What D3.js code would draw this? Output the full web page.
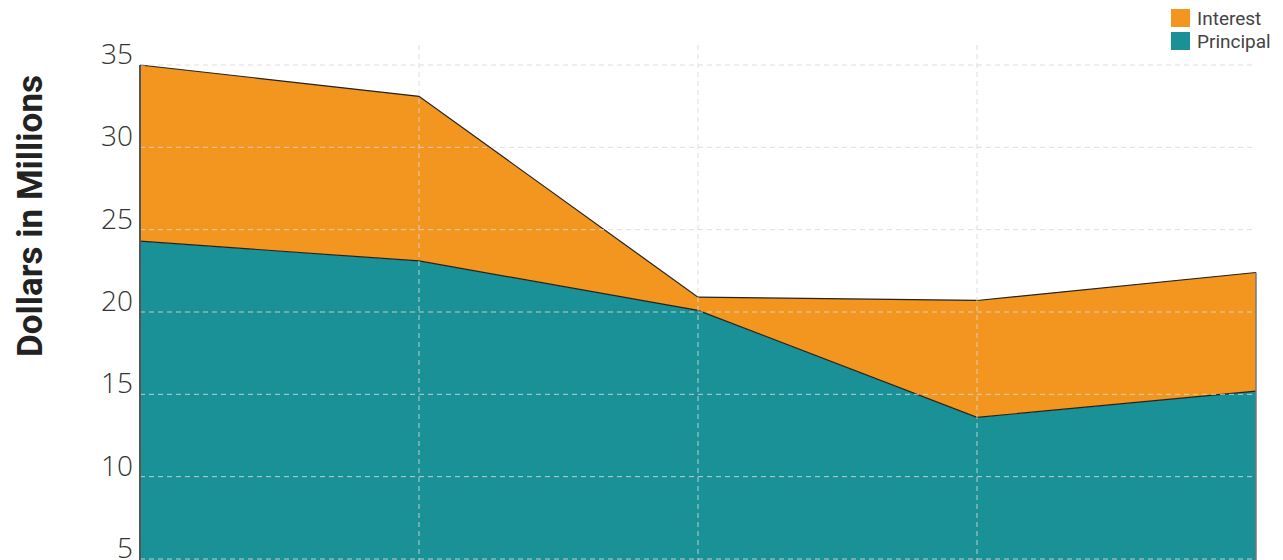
<!DOCTYPE html>
<html>
<head>
<meta charset="utf-8">
<script src="https://cdn.jsdelivr.net/npm/d3@7"></script>
<style>
  body { margin: 0; background: #fff; }
  svg { display: block; }
</style>
</head>
<body>
<div id="chart"></div>
<script>
// Données
const categories = ["A", "B", "C", "D", "E"];
const principal = [24.3, 23.1, 20.1, 13.6, 15.2];
const interest = [10.7, 10.0, 0.8, 7.1, 7.2];
const yTicks = [5, 10, 15, 20, 25, 30, 35];

const width = 1283;
const height = 560;

const svg = d3.select("#chart")
    .append("svg")
    .attr("width", width)
    .attr("height", height);

const rows = categories.map((c, i) => ({ cat: c, principal: principal[i], interest: interest[i] }));
const series = d3.stack().keys(["principal", "interest"])(rows);

const x = d3.scalePoint().domain(categories).range([140, 1256]);
const y = d3.scaleLinear().domain([5, 35]).range([559, 65]);
const color = { principal: "#1a9196", interest: "#f29620" };

// Aires empilées
const area = d3.area()
    .x(d => x(d.data.cat))
    .y0(d => y(d[0] === 0 ? 0 : d[0]))
    .y1(d => y(d[1]));

svg.selectAll(".layer")
    .data(series)
    .enter()
    .append("path")
    .attr("class", "layer")
    .attr("d", area)
    .attr("fill", d => color[d.key]);

// Lignes du haut de chaque couche
const line = d3.line()
    .x(d => x(d.data.cat))
    .y(d => y(d[1]));

svg.selectAll(".edge")
    .data(series)
    .enter()
    .append("path")
    .attr("class", "edge")
    .attr("d", line)
    .attr("fill", "none")
    .attr("stroke", "#222")
    .attr("stroke-width", 1.2);

// Grille
const grid = svg.append("g");
grid.selectAll(".hgrid")
    .data(yTicks)
    .enter()
    .append("line")
    .attr("x1", x.range()[0])
    .attr("x2", x.range()[1])
    .attr("y1", d => y(d))
    .attr("y2", d => y(d))
    .attr("stroke", "#d8d8d8")
    .attr("stroke-opacity", 0.85)
    .attr("stroke-dasharray", "5,4");

grid.selectAll(".vgrid")
    .data(categories.slice(1, -1))
    .enter()
    .append("line")
    .attr("x1", d => x(d))
    .attr("x2", d => x(d))
    .attr("y1", 45)
    .attr("y2", height)
    .attr("stroke", "#d8d8d8")
    .attr("stroke-opacity", 0.85)
    .attr("stroke-dasharray", "5,4");

// Bords gauche et droit
const last = series[series.length - 1];
svg.append("line")
    .attr("x1", x(categories[0])).attr("x2", x(categories[0]))
    .attr("y1", y(last[0][1])).attr("y2", height)
    .attr("stroke", "#555").attr("stroke-width", 2);
svg.append("line")
    .attr("x1", x(categories[4])).attr("x2", x(categories[4]))
    .attr("y1", y(last[4][1])).attr("y2", height)
    .attr("stroke", "#777").attr("stroke-width", 1.5);

// Axe Y (étiquettes)
svg.selectAll(".ytick")
    .data(yTicks)
    .enter()
    .append("text")
    .attr("x", 133)
    .attr("y", d => y(d) - 1)
    .attr("text-anchor", "end")
    .style("font-family", "'Open Sans', 'Liberation Sans', sans-serif")
    .style("font-weight", 300)
    .style("font-size", "28px")
    .style("fill", "#333")
    .text(d => d);

svg.append("text")
    .attr("transform", "translate(42,216) rotate(-90)")
    .attr("text-anchor", "middle")
    .attr("textLength", 282)
    .attr("lengthAdjust", "spacingAndGlyphs")
    .style("font-family", "'Roboto', 'Liberation Sans', sans-serif")
    .style("font-weight", "bold")
    .style("font-size", "35px")
    .style("fill", "#222")
    .text("Dollars in Millions");

// Légende
const legendItems = [["Interest", color.interest], ["Principal", color.principal]];
const legend = svg.append("g").attr("transform", "translate(1171,9)");
legendItems.forEach((item, i) => {
    const row = legend.append("g").attr("transform", `translate(0, ${i * 23})`);
    row.append("rect")
        .attr("width", 19)
        .attr("height", 18)
        .attr("fill", item[1]);
    row.append("text")
        .attr("x", 26)
        .attr("y", 16)
        .style("font-family", "'Roboto', sans-serif")
        .style("font-size", "19px")
        .style("fill", "#444")
        .text(item[0]);
});
</script>
</body>
</html>
